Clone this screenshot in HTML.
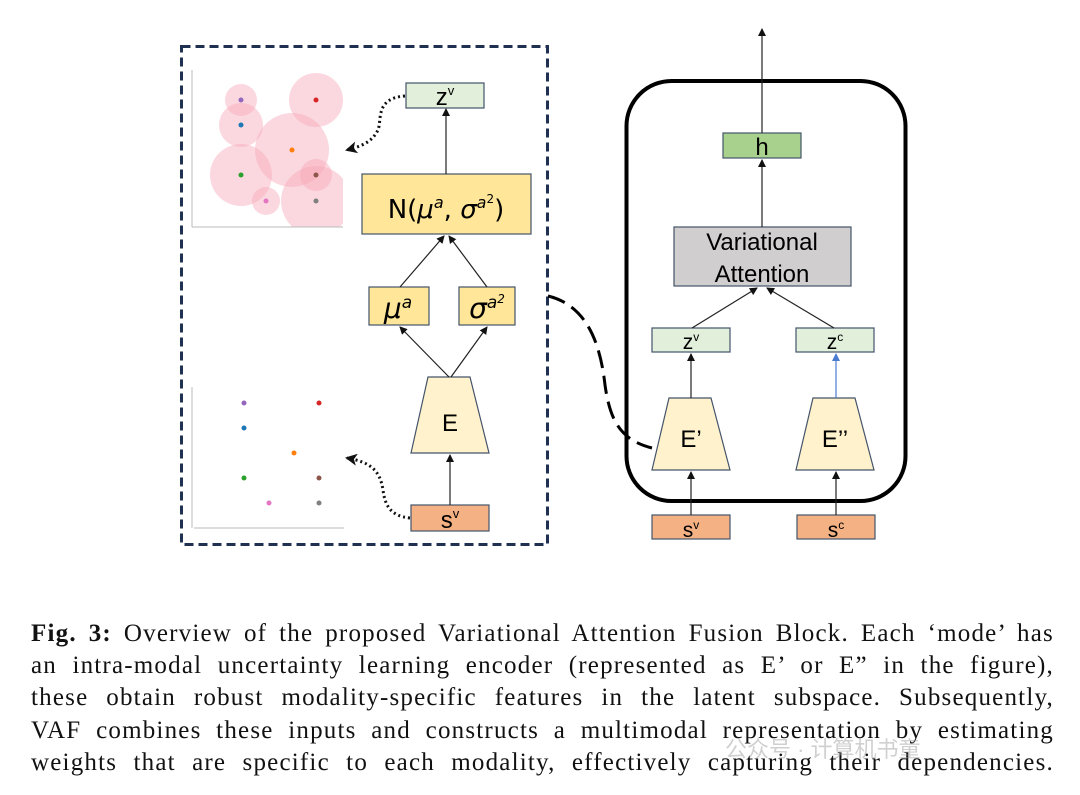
<!DOCTYPE html>
<html><head><meta charset="utf-8"><style>
body{margin:0;background:#fff;width:1080px;height:795px;overflow:hidden;position:relative;font-family:"Liberation Sans",sans-serif}
.cap{position:absolute;left:31px;width:1023px;font-family:"Liberation Serif",serif;font-size:25px;letter-spacing:1.2px;line-height:32px;text-align:justify;text-align-last:justify;color:#111;white-space:nowrap}
.wm{position:absolute;left:725px;top:732px;font-family:"Liberation Sans","Noto Sans CJK SC",sans-serif;font-size:22px;color:rgba(150,150,150,0.45)}
</style></head><body>
<svg width="1080" height="600" style="position:absolute;left:0;top:0" font-family="Liberation Sans, sans-serif">
<defs>
<marker id="a" markerWidth="8" markerHeight="8" refX="7" refY="4" orient="auto" markerUnits="userSpaceOnUse"><path d="M0,0 L8,4 L0,8z" fill="#111"/></marker>
<marker id="ab" markerWidth="8" markerHeight="8" refX="7" refY="4" orient="auto" markerUnits="userSpaceOnUse"><path d="M0,0 L8,4 L0,8z" fill="#4a7bd0"/></marker>
<marker id="ad" markerWidth="12" markerHeight="12" refX="10" refY="6" orient="auto" markerUnits="userSpaceOnUse"><path d="M0,0 L12,6 L0,12 L3,6z" fill="#111"/></marker>
<clipPath id="c1"><rect x="192" y="60" width="151" height="167"/></clipPath>
</defs>
<rect x="181.5" y="46.5" width="366" height="498" fill="none" stroke="#1f3050" stroke-width="3" stroke-dasharray="9,5"/>
<g clip-path="url(#c1)" fill="#f7a8b8" fill-opacity="0.45">
<circle cx="241" cy="100" r="16"/><circle cx="316" cy="100" r="27"/><circle cx="241" cy="125" r="22"/><circle cx="292" cy="150" r="37"/><circle cx="241" cy="175" r="31"/><circle cx="316" cy="201" r="35"/><circle cx="316" cy="175" r="16"/><circle cx="266" cy="201" r="14"/>
</g>
<g stroke="#bbb" stroke-width="1"><line x1="192" y1="70" x2="192" y2="227"/><line x1="192" y1="227" x2="343" y2="227"/>
<line x1="192" y1="387" x2="192" y2="528"/><line x1="194" y1="528" x2="344" y2="528"/></g>
<g>
<circle cx="241" cy="100" r="2.5" fill="#9467bd"/><circle cx="316" cy="100" r="2.5" fill="#d62728"/><circle cx="241" cy="125" r="2.5" fill="#1f77b4"/><circle cx="292" cy="150" r="2.5" fill="#ff7f0e"/><circle cx="241" cy="175" r="2.5" fill="#2ca02c"/><circle cx="316" cy="175" r="2.5" fill="#8c564b"/><circle cx="266" cy="201" r="2.5" fill="#e377c2"/><circle cx="316" cy="201" r="2.5" fill="#7f7f7f"/>
<circle cx="244" cy="403" r="2.5" fill="#9467bd"/><circle cx="319" cy="403" r="2.5" fill="#d62728"/><circle cx="244" cy="428" r="2.5" fill="#1f77b4"/><circle cx="294" cy="453" r="2.5" fill="#ff7f0e"/><circle cx="244" cy="478" r="2.5" fill="#2ca02c"/><circle cx="319" cy="478" r="2.5" fill="#8c564b"/><circle cx="269" cy="503" r="2.5" fill="#e377c2"/><circle cx="319" cy="503" r="2.5" fill="#7f7f7f"/>
</g>
<g stroke="#44546a" stroke-width="1.2">
<rect x="406" y="83" width="78" height="25" fill="#e2efda"/>
<rect x="362" y="174" width="169" height="60" fill="#ffe699"/>
<rect x="369" y="287" width="60" height="38" fill="#ffe699"/>
<rect x="459" y="287" width="56" height="38" fill="#ffe699"/>
<path d="M428,377 L470,377 L489,453 L411,453z" fill="#fff2cc"/>
<rect x="411" y="505" width="78" height="26" fill="#f4b183"/>
</g>
<text x="445" y="105" font-size="24" text-anchor="middle">z<tspan font-size="13" dy="-10">v</tspan></text>
<text x="446" y="218" font-size="26" text-anchor="middle" font-family="DejaVu Sans, sans-serif">N(<tspan font-style="italic">μ</tspan><tspan font-size="16" dy="-10" font-style="italic">a</tspan><tspan dy="10">, </tspan><tspan font-style="italic">σ</tspan><tspan font-size="16" dy="-10" font-style="italic">a</tspan><tspan font-size="12" dy="-5">2</tspan><tspan dy="15">)</tspan></text>
<text x="398" y="318" font-size="28" text-anchor="middle" font-style="italic" font-family="DejaVu Sans, sans-serif">μ<tspan font-size="17" dy="-10">a</tspan></text>
<text x="487" y="318" font-size="28" text-anchor="middle" font-style="italic" font-family="DejaVu Sans, sans-serif">σ<tspan font-size="17" dy="-10">a</tspan><tspan font-size="12" dy="-5">2</tspan></text>
<text x="450" y="431" font-size="24" text-anchor="middle">E</text>
<text x="450" y="528" font-size="24" text-anchor="middle">s<tspan font-size="13" dy="-10">v</tspan></text>
<g stroke="#222" stroke-width="1.2" fill="none" marker-end="url(#a)">
<line x1="446" y1="174" x2="446" y2="109"/>
<line x1="400" y1="287" x2="444" y2="236"/>
<line x1="487" y1="287" x2="449" y2="236"/>
<line x1="449" y1="377" x2="400" y2="327"/>
<line x1="451" y1="377" x2="487" y2="327"/>
<line x1="450" y1="505" x2="450" y2="455"/>
</g>
<g stroke="#111" stroke-width="3" fill="none" stroke-dasharray="2,3" marker-end="url(#ad)">
<path d="M405,96 C375,98 382,120 378,130 C372,142 362,146 347,150"/>
<path d="M410,518 C390,516 385,505 383,490 C380,470 370,462 347,458"/>
</g>
<rect x="626.5" y="81" width="279" height="420" rx="45" fill="none" stroke="#000" stroke-width="4"/>
<path d="M548,296 C585,305 600,340 605,385 C610,420 620,440 652,448" fill="none" stroke="#000" stroke-width="3" stroke-dasharray="18,8"/>
<g stroke="#44546a" stroke-width="1.2">
<rect x="723" y="133" width="78" height="25" fill="#a9d18e"/>
<rect x="674" y="227" width="177" height="59" fill="#d0cece"/>
<rect x="652" y="328" width="78" height="24" fill="#e2efda"/>
<rect x="796" y="328" width="78" height="24" fill="#e2efda"/>
<path d="M669,398 L711,398 L730,470 L652,470z" fill="#fff2cc"/>
<path d="M813,398 L855,398 L874,470 L796,470z" fill="#fff2cc"/>
<rect x="652" y="515" width="78" height="24" fill="#f4b183"/>
<rect x="797" y="515" width="78" height="24" fill="#f4b183"/>
</g>
<text x="762" y="155" font-size="24" text-anchor="middle">h</text>
<text x="762" y="250" font-size="24" text-anchor="middle">Variational</text>
<text x="762" y="282" font-size="24" text-anchor="middle">Attention</text>
<text x="691" y="349" font-size="21" text-anchor="middle">z<tspan font-size="12" dy="-8">v</tspan></text>
<text x="835" y="349" font-size="21" text-anchor="middle">z<tspan font-size="12" dy="-8">c</tspan></text>
<text x="691" y="447" font-size="24" text-anchor="middle">E’</text>
<text x="835" y="447" font-size="24" text-anchor="middle">E’’</text>
<text x="691" y="537" font-size="21" text-anchor="middle">s<tspan font-size="12" dy="-8">v</tspan></text>
<text x="836" y="537" font-size="21" text-anchor="middle">s<tspan font-size="12" dy="-8">c</tspan></text>
<g stroke="#222" stroke-width="1.2" fill="none" marker-end="url(#a)">
<line x1="762" y1="133" x2="762" y2="29"/>
<line x1="762" y1="227" x2="762" y2="160"/>
<line x1="692" y1="328" x2="757" y2="288"/>
<line x1="834" y1="328" x2="767" y2="288"/>
<line x1="691" y1="398" x2="691" y2="354"/>
<line x1="691" y1="515" x2="691" y2="472"/>
<line x1="836" y1="515" x2="836" y2="472"/>
</g>
<line x1="836" y1="398" x2="836" y2="354" stroke="#4a7bd0" stroke-width="1.2" marker-end="url(#ab)"/>
</svg>
<div class="cap" style="top:618px"><b>Fig. 3:</b> Overview of the proposed Variational Attention Fusion Block. Each ‘mode’ has</div>
<div class="cap" style="top:650px">an intra-modal uncertainty learning encoder (represented as E’ or E” in the figure),</div>
<div class="cap" style="top:682px">these obtain robust modality-specific features in the latent subspace. Subsequently,</div>
<div class="cap" style="top:715px">VAF combines these inputs and constructs a multimodal representation by estimating</div>
<div class="cap" style="top:747px">weights that are specific to each modality, effectively capturing their dependencies.</div>
<div class="wm">公众号 · 计算机书童</div>
</body></html>
